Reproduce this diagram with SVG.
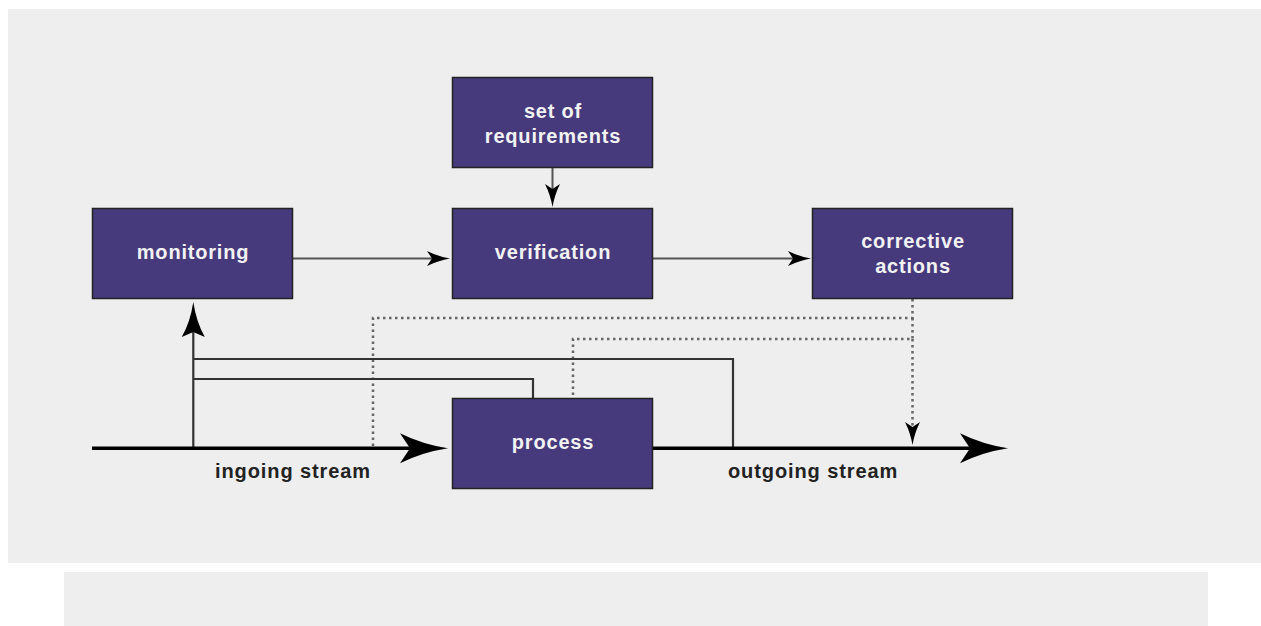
<svg xmlns="http://www.w3.org/2000/svg" width="1261" height="626" viewBox="0 0 1261 626">
<defs>
<style>
.box{fill:#463a7d;stroke:#222;stroke-width:1.5}
.lbl{font-family:"Liberation Sans",Arial,sans-serif;font-weight:bold;font-size:20px;letter-spacing:0.8px;fill:#f2f2f2;text-anchor:middle}
.cap{font-family:"Liberation Sans",Arial,sans-serif;font-weight:bold;font-size:20px;letter-spacing:0.9px;fill:#222}
.flow{fill:none;stroke:#555;stroke-width:2}
.stream{fill:none;stroke:#000;stroke-width:3.5}
.fb{fill:none;stroke:#333;stroke-width:2.2}
.dot{fill:none;stroke:#666;stroke-width:2.5;stroke-dasharray:2.5 3.5}
</style>
<marker id="big" markerUnits="userSpaceOnUse" markerWidth="60" markerHeight="40" refX="0" refY="0" orient="auto" overflow="visible" viewBox="-20 -20 60 40">
<path d="M38,0 Q12,-4 -10,-15 L0,0 L-10,15 Q12,4 38,0 Z" fill="#000"/>
</marker>
<marker id="small" markerUnits="userSpaceOnUse" markerWidth="30" markerHeight="20" refX="0" refY="0" orient="auto" overflow="visible" viewBox="-10 -10 30 20">
<path d="M18,0 Q6,-2 -5,-7.5 L0,0 L-5,7.5 Q6,2 18,0 Z" fill="#000"/>
</marker>
<marker id="mid" markerUnits="userSpaceOnUse" markerWidth="40" markerHeight="30" refX="0" refY="0" orient="auto" overflow="visible" viewBox="-10 -15 40 30">
<path d="M30,0 Q10,-3 -5,-11.5 L0,0 L-5,11.5 Q10,3 30,0 Z" fill="#000"/>
</marker>
</defs>
<rect x="8" y="9" width="1253" height="554" fill="#eeeeee"/>
<rect x="64" y="572" width="1144" height="54" fill="#eeeeee"/>
<g id="connectors">
<path class="flow" d="M293,258.5 H432" marker-end="url(#small)"/>
<path class="flow" d="M653,258.5 H793" marker-end="url(#small)"/>
<path class="flow" d="M552.5,168 V189" marker-end="url(#small)"/>
<path class="dot" d="M912.5,299 V318 H373 V447"/>
<path class="dot" d="M912.5,318 V339 H573 V398"/>
<path class="dot" d="M912.5,339 V427" marker-end="url(#small)"/>
<path class="fb" d="M193.3,448 V332" marker-end="url(#mid)"/>
<path class="fb" d="M193.3,359 H733 V448"/>
<path class="fb" d="M193.3,379 H533 V398"/>
<path class="stream" d="M92,448.3 H410" marker-end="url(#big)"/>
<path class="stream" d="M653,448.3 H970" marker-end="url(#big)"/>
</g>
<g id="requirements">
<rect class="box" x="452.5" y="77.5" width="200" height="90"/>
<text class="lbl" x="553" y="118">set of</text>
<text class="lbl" x="553" y="143">requirements</text>
</g>
<g id="monitoring">
<rect class="box" x="92.5" y="208.5" width="200" height="90"/>
<text class="lbl" x="193" y="259">monitoring</text>
</g>
<g id="verification">
<rect class="box" x="452.5" y="208.5" width="200" height="90"/>
<text class="lbl" x="553" y="258.5">verification</text>
</g>
<g id="corrective">
<rect class="box" x="812.5" y="208.5" width="200" height="90"/>
<text class="lbl" x="913" y="248">corrective</text>
<text class="lbl" x="913" y="273">actions</text>
</g>
<g id="process">
<rect class="box" x="452.5" y="398.5" width="200" height="90"/>
<text class="lbl" x="553" y="449">process</text>
</g>
<g id="captions">
<text class="cap" x="215" y="478">ingoing stream</text>
<text class="cap" x="728" y="478">outgoing stream</text>
</g>
</svg>
